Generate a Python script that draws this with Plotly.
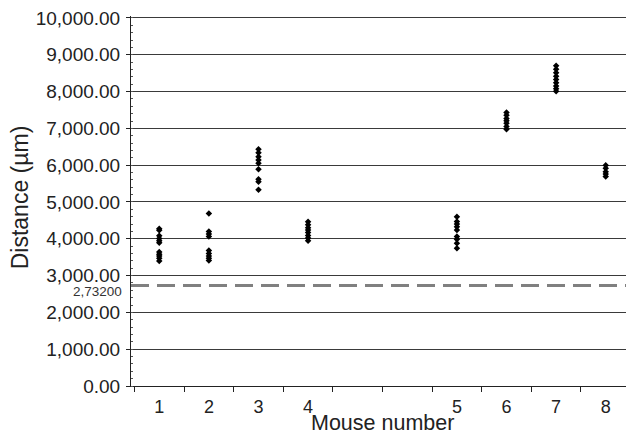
import plotly.graph_objects as go

# Category slots on the x axis (two unlabeled slots between mouse 4 and 5)
slots = ["1", "2", "3", "4", " ", "  ", "5", "6", "7", "8"]
mice = ["1", "2", "3", "4", "5", "6", "7", "8"]

m1 = [4270, 4230, 4080, 4010, 3950, 3890, 3640, 3580, 3530, 3470, 3400]
m2 = [4690, 4200, 4130, 4060, 3680, 3600, 3530, 3470, 3410]
m3 = [6430, 6340, 6230, 6140, 6050, 5890, 5620, 5550, 5330]
m4 = [4460, 4380, 4300, 4240, 4170, 4090, 4020, 3950]
m5 = [4600, 4470, 4400, 4330, 4240, 4060, 3990, 3880, 3740]
m6 = [7430, 7360, 7270, 7210, 7140, 7050, 6980]
m7 = [8700, 8610, 8510, 8420, 8330, 8240, 8150, 8080, 8010]
m8 = [6000, 5920, 5820, 5760, 5690]
values = [m1, m2, m3, m4, m5, m6, m7, m8]

threshold = 2732
threshold_label = "2,73200"
x_title = "Mouse number"
y_title = "Distance (µm)"

FONT = "Liberation Sans, Arial, Helvetica, sans-serif"

fig = go.Figure()
for name, vals in zip(mice, values):
    fig.add_trace(go.Scatter(
        x=[name] * len(vals), y=vals, mode="markers",
        marker=dict(symbol="diamond", size=5, color="black"),
        showlegend=False, name="Mouse " + name,
    ))

fig.add_shape(type="line", xref="x domain", yref="y", x0=0, x1=1,
              y0=threshold, y1=threshold,
              line=dict(color="#808080", width=3, dash="18px,8px"))

fig.add_annotation(xref="x domain", yref="y", x=0, y=threshold, text=threshold_label,
                   showarrow=False, xanchor="right", yanchor="middle",
                   xshift=-7, yshift=-6, font=dict(size=13.5, color="#333333", family=FONT))

fig.add_annotation(xref="x domain", yref="y domain", x=0.5, y=-0.106, text=x_title,
                   showarrow=False, xanchor="center", yanchor="middle", yshift=2,
                   font=dict(size=21.5, color="#222222", family=FONT))

fig.add_annotation(xref="x domain", yref="y domain", x=0, y=0.51, text=y_title,
                   showarrow=False, xanchor="center", yanchor="middle", textangle=-90,
                   xshift=-111, font=dict(size=23, color="#222222", family=FONT))

# The page body adds an 8px offset, so the figure is sized to fit the window;
# a little headroom above 10,000 keeps its gridline from being clipped.
fig.update_layout(
    width=626, height=427,
    margin=dict(l=123, r=0, t=8, b=49),
    paper_bgcolor="white", plot_bgcolor="white",
    font=dict(family=FONT, color="#222222"),
    xaxis=dict(
        type="category", categoryorder="array", categoryarray=slots,
        tickson="boundaries", ticks="outside", ticklen=5, tickcolor="#222",
        showgrid=False, showline=True, linecolor="#222", linewidth=1,
        tickfont=dict(size=18), zeroline=False, ticklabelstandoff=4,
    ),
    yaxis=dict(
        range=[0, 10054], dtick=1000, tickformat=",.2f",
        ticks="outside", ticklen=4, tickcolor="#222",
        showgrid=True, gridcolor="#3a3a3a", gridwidth=1.4,
        showline=True, linecolor="#222", linewidth=1, zeroline=False,
        tickfont=dict(size=19), ticklabelstandoff=2, ticklabeloverflow="allow",
        minor=dict(ticks="inside", ticklen=2, dtick=200, tickcolor="#555", showgrid=False),
    ),
)

fig.write_html("out.html")
